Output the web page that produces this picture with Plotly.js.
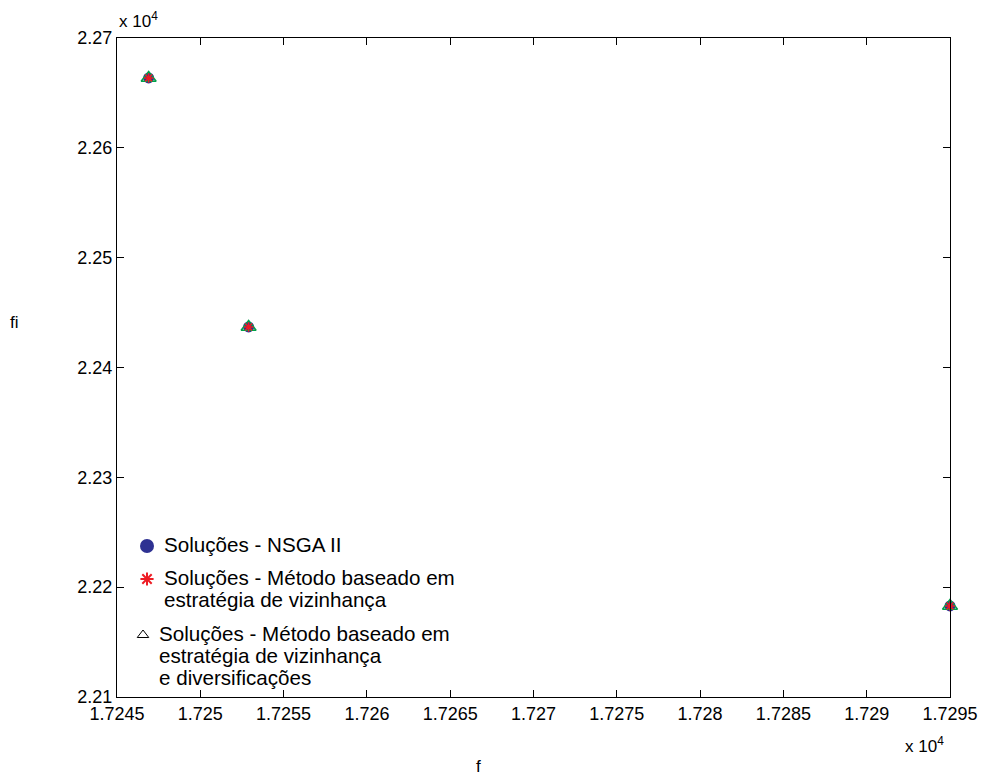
<!DOCTYPE html>
<html>
<head>
<meta charset="utf-8">
<script src="https://cdn.plot.ly/plotly-3.0.1.min.js"></script>
<style>body{margin:0;padding:0;background:#fff}#chart{width:983px;height:778px}</style>
</head>
<body>
<div id="chart"></div>
<script>
// Data (raw units)
const fNSGA = [17246.9, 17252.9, 17295.0];
const fiNSGA = [22663.6, 22436.9, 22182.9];
const fViz = [17246.9, 17252.9, 17295.0];
const fiViz = [22663.6, 22436.9, 22182.9];
const fDiv = [17246.9, 17252.9, 17295.0];
const fiDiv = [22663.6, 22436.9, 22182.9];

const xTickVals = [17245, 17250, 17255, 17260, 17265, 17270, 17275, 17280, 17285, 17290, 17295];
const xTickText = ['1.7245','1.725','1.7255','1.726','1.7265','1.727','1.7275','1.728','1.7285','1.729','1.7295'];
const yTickVals = [22100, 22200, 22300, 22400, 22500, 22600, 22700];
const yTickText = ['2.21','2.22','2.23','2.24','2.25','2.26','2.27'];

const legendLines = [
  ['Soluções - NSGA II'],
  ['Soluções - Método baseado em', 'estratégia de vizinhança'],
  ['Soluções - Método baseado em', 'estratégia de vizinhança', 'e diversificações']
];

const FONT = 'Liberation Sans, Arial, Helvetica, sans-serif';

// legend layout (pixel positions inside the plot area, via overlay axis)
const legSymX = [147, 147, 143];
const legSymY = [546, 579, 635];
const legTextX = [162, 162, 157];
const legLineStep = 22.3;

const traces = [
  {x: fNSGA, y: fiNSGA, mode: 'markers', showlegend: false, cliponaxis: false,
   marker: {symbol: 'circle', size: 11, color: '#2e3192'}},
  {x: fDiv, y: fiDiv, mode: 'markers', showlegend: false, cliponaxis: false,
   marker: {symbol: 'triangle-up-open', size: 13, color: '#00a14b', line: {width: 1.5, color: '#00a14b'}}},
  {x: fViz, y: fiViz, mode: 'markers', showlegend: false, cliponaxis: false,
   marker: {symbol: 'asterisk-open', size: 8, color: '#ed1c24', line: {width: 1.5, color: '#ed1c24'}}},
  // legend symbols
  {x: [legSymX[0]], y: [legSymY[0]], xaxis: 'x2', yaxis: 'y2', mode: 'markers', showlegend: false, cliponaxis: false,
   marker: {symbol: 'circle', size: 14, color: '#2e3192'}},
  {x: [legSymX[1]], y: [legSymY[1]], xaxis: 'x2', yaxis: 'y2', mode: 'markers', showlegend: false, cliponaxis: false,
   marker: {symbol: 'asterisk-open', size: 11, color: '#ed1c24', line: {width: 2, color: '#ed1c24'}}},
  {x: [legSymX[2]], y: [legSymY[2]], xaxis: 'x2', yaxis: 'y2', mode: 'markers', showlegend: false, cliponaxis: false,
   marker: {symbol: 'triangle-up-open', size: 10, color: '#000', line: {width: 1, color: '#000'}}}
];

const axisCommon = {
  showline: true, linecolor: '#000', linewidth: 1, mirror: 'ticks',
  ticks: 'inside', ticklen: 7, tickcolor: '#000', tickwidth: 1,
  showgrid: false, zeroline: false,
  tickfont: {family: FONT, size: 18, color: '#000'}
};

const annotations = [
  {xref: 'paper', yref: 'paper', x: (478 - 117) / 833, y: 0, yshift: -69, xanchor: 'center', yanchor: 'middle',
   text: 'f', showarrow: false, font: {family: FONT, size: 17}},
  {xref: 'paper', yref: 'paper', x: 0, y: (697 - 322) / 659, xshift: -103, xanchor: 'center', yanchor: 'middle',
   text: 'fi', showarrow: false, font: {family: FONT, size: 17}},
  {xref: 'paper', yref: 'paper', x: 0, y: 1, yshift: 18, xanchor: 'left', yanchor: 'middle',
   text: 'x 10<sup>4</sup>', showarrow: false, font: {family: FONT, size: 17}},
  {xref: 'paper', yref: 'paper', x: 1, y: 0, yshift: -48, xshift: -4, xanchor: 'right', yanchor: 'middle',
   text: 'x 10<sup>4</sup>', showarrow: false, font: {family: FONT, size: 17}}
];
legendLines.forEach((lines, i) => {
  lines.forEach((t, j) => {
    annotations.push({xref: 'x2', yref: 'y2', x: legTextX[i], y: legSymY[i] - 2 + j * legLineStep,
      xanchor: 'left', yanchor: 'middle', text: t, showarrow: false,
      font: {family: FONT, size: 20.6, color: '#000'}});
  });
});

const layout = {
  width: 983, height: 778,
  margin: {l: 117, r: 33, t: 38, b: 81},
  paper_bgcolor: '#fff', plot_bgcolor: '#fff',
  font: {family: FONT, color: '#000'},
  showlegend: false,
  xaxis: Object.assign({}, axisCommon, {
    range: [17245, 17295], tickmode: 'array', tickvals: xTickVals, ticktext: xTickText
  }),
  yaxis: Object.assign({}, axisCommon, {
    range: [22100, 22700], tickmode: 'array', tickvals: yTickVals, ticktext: yTickText
  }),
  xaxis2: {overlaying: 'x', range: [117, 950], visible: false, showgrid: false, zeroline: false},
  yaxis2: {overlaying: 'y', range: [697, 38], visible: false, showgrid: false, zeroline: false},
  annotations: annotations
};

Plotly.newPlot('chart', traces, layout, {displayModeBar: false, staticPlot: true});
</script>
</body>
</html>
